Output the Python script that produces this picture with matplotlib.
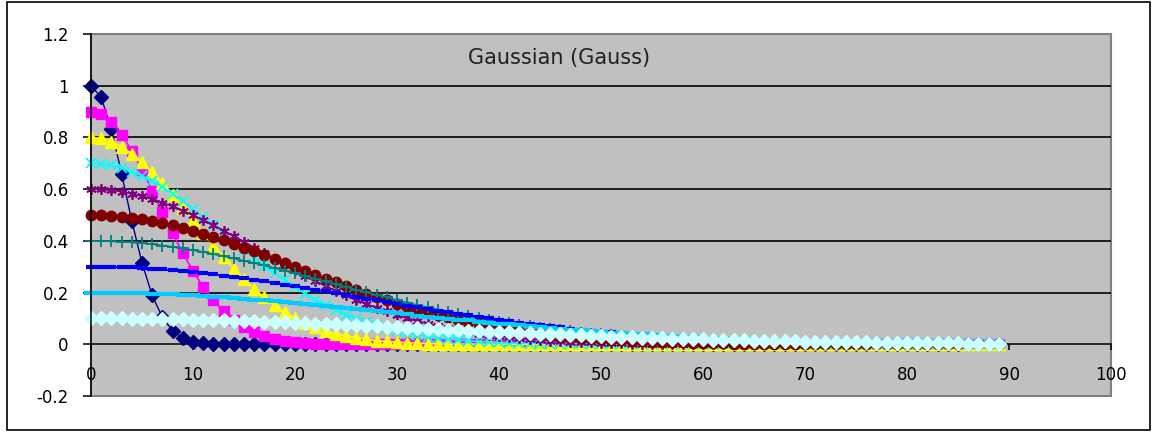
import matplotlib
matplotlib.use("Agg")
import matplotlib.pyplot as plt
from matplotlib.patches import Rectangle

# ---- data -------------------------------------------------------------
x_values = list(range(90))

gauss_a10 = [
    1.000, 0.955, 0.831, 0.660, 0.477, 0.315, 0.189, 0.104, 0.052, 0.024,
    0.010, 0.004, 0.001, 0, 0, 0, 0, 0, 0, 0,
    0, 0, 0, 0, 0, 0, 0, 0, 0, 0,
    0, 0, 0, 0, 0, 0, 0, 0, 0, 0,
    0, 0, 0, 0, 0, 0, 0, 0, 0, 0,
    0, 0, 0, 0, 0, 0, 0, 0, 0, 0,
    0, 0, 0, 0, 0, 0, 0, 0, 0, 0,
    0, 0, 0, 0, 0, 0, 0, 0, 0, 0,
    0, 0, 0, 0, 0, 0, 0, 0, 0, 0,
]

gauss_a09 = [
    0.900, 0.890, 0.859, 0.811, 0.748, 0.674, 0.594, 0.511, 0.429, 0.353,
    0.283, 0.222, 0.170, 0.128, 0.093, 0.067, 0.047, 0.032, 0.021, 0.014,
    0.009, 0.005, 0.003, 0.002, 0.001, 0.001, 0, 0, 0, 0,
    0, 0, 0, 0, 0, 0, 0, 0, 0, 0,
    0, 0, 0, 0, 0, 0, 0, 0, 0, 0,
    0, 0, 0, 0, 0, 0, 0, 0, 0, 0,
    0, 0, 0, 0, 0, 0, 0, 0, 0, 0,
    0, 0, 0, 0, 0, 0, 0, 0, 0, 0,
    0, 0, 0, 0, 0, 0, 0, 0, 0, 0,
]

gauss_a08 = [
    0.800, 0.796, 0.784, 0.764, 0.737, 0.704, 0.665, 0.622, 0.576, 0.528,
    0.479, 0.430, 0.382, 0.336, 0.292, 0.252, 0.215, 0.181, 0.151, 0.125,
    0.102, 0.083, 0.067, 0.053, 0.041, 0.032, 0.025, 0.019, 0.014, 0.011,
    0.008, 0.006, 0.004, 0.003, 0.002, 0.001, 0.001, 0.001, 0, 0,
    0, 0, 0, 0, 0, 0, 0, 0, 0, 0,
    0, 0, 0, 0, 0, 0, 0, 0, 0, 0,
    0, 0, 0, 0, 0, 0, 0, 0, 0, 0,
    0, 0, 0, 0, 0, 0, 0, 0, 0, 0,
    0, 0, 0, 0, 0, 0, 0, 0, 0, 0,
]

gauss_a07 = [
    0.700, 0.698, 0.692, 0.682, 0.668, 0.651, 0.631, 0.608, 0.582, 0.554,
    0.524, 0.493, 0.462, 0.429, 0.397, 0.365, 0.334, 0.304, 0.274, 0.247,
    0.220, 0.196, 0.173, 0.152, 0.132, 0.115, 0.099, 0.085, 0.073, 0.062,
    0.052, 0.044, 0.036, 0.030, 0.025, 0.020, 0.017, 0.013, 0.011, 0.009,
    0.007, 0.005, 0.004, 0.003, 0.003, 0.002, 0.002, 0.001, 0.001, 0.001,
    0, 0, 0, 0, 0, 0, 0, 0, 0, 0,
    0, 0, 0, 0, 0, 0, 0, 0, 0, 0,
    0, 0, 0, 0, 0, 0, 0, 0, 0, 0,
    0, 0, 0, 0, 0, 0, 0, 0, 0, 0,
]

gauss_a06 = [
    0.600, 0.599, 0.596, 0.590, 0.583, 0.573, 0.561, 0.548, 0.533, 0.517,
    0.499, 0.480, 0.460, 0.439, 0.418, 0.396, 0.374, 0.352, 0.329, 0.308,
    0.286, 0.265, 0.245, 0.225, 0.207, 0.189, 0.172, 0.156, 0.141, 0.127,
    0.114, 0.101, 0.090, 0.080, 0.071, 0.062, 0.055, 0.048, 0.041, 0.036,
    0.031, 0.027, 0.023, 0.020, 0.017, 0.014, 0.012, 0.010, 0.008, 0.007,
    0.006, 0.005, 0.004, 0.003, 0.003, 0.002, 0.002, 0.001, 0.001, 0.001,
    0.001, 0.001, 0, 0, 0, 0, 0, 0, 0, 0,
    0, 0, 0, 0, 0, 0, 0, 0, 0, 0,
    0, 0, 0, 0, 0, 0, 0, 0, 0, 0,
]

gauss_a05 = [
    0.500, 0.499, 0.497, 0.494, 0.490, 0.484, 0.477, 0.469, 0.461, 0.451,
    0.440, 0.428, 0.416, 0.402, 0.389, 0.374, 0.360, 0.345, 0.330, 0.314,
    0.299, 0.284, 0.268, 0.253, 0.239, 0.224, 0.210, 0.196, 0.183, 0.170,
    0.157, 0.145, 0.134, 0.123, 0.113, 0.104, 0.095, 0.086, 0.078, 0.071,
    0.064, 0.058, 0.052, 0.046, 0.042, 0.037, 0.033, 0.029, 0.026, 0.023,
    0.020, 0.018, 0.015, 0.014, 0.012, 0.010, 0.009, 0.008, 0.007, 0.006,
    0.005, 0.004, 0.004, 0.003, 0.003, 0.002, 0.002, 0.002, 0.001, 0.001,
    0.001, 0.001, 0.001, 0.001, 0, 0, 0, 0, 0, 0,
    0, 0, 0, 0, 0, 0, 0, 0, 0, 0,
]

gauss_a04 = [
    0.400, 0.400, 0.398, 0.397, 0.394, 0.391, 0.387, 0.382, 0.377, 0.371,
    0.364, 0.357, 0.349, 0.341, 0.332, 0.323, 0.314, 0.305, 0.295, 0.285,
    0.274, 0.264, 0.253, 0.243, 0.232, 0.222, 0.211, 0.201, 0.191, 0.181,
    0.171, 0.161, 0.152, 0.143, 0.134, 0.126, 0.118, 0.110, 0.102, 0.095,
    0.088, 0.082, 0.076, 0.070, 0.064, 0.059, 0.054, 0.050, 0.045, 0.041,
    0.038, 0.034, 0.031, 0.028, 0.026, 0.023, 0.021, 0.019, 0.017, 0.015,
    0.013, 0.012, 0.011, 0.009, 0.008, 0.007, 0.007, 0.006, 0.005, 0.004,
    0.004, 0.003, 0.003, 0.003, 0.002, 0.002, 0.002, 0.001, 0.001, 0.001,
    0.001, 0.001, 0.001, 0.001, 0.001, 0, 0, 0, 0, 0,
]

gauss_a03 = [
    0.300, 0.300, 0.299, 0.298, 0.297, 0.295, 0.292, 0.290, 0.286, 0.283,
    0.279, 0.275, 0.270, 0.266, 0.260, 0.255, 0.249, 0.243, 0.237, 0.231,
    0.225, 0.218, 0.211, 0.205, 0.198, 0.191, 0.184, 0.177, 0.170, 0.163,
    0.157, 0.150, 0.143, 0.137, 0.130, 0.124, 0.118, 0.112, 0.106, 0.100,
    0.094, 0.089, 0.084, 0.079, 0.074, 0.069, 0.065, 0.061, 0.057, 0.053,
    0.049, 0.046, 0.043, 0.039, 0.036, 0.034, 0.031, 0.029, 0.026, 0.024,
    0.022, 0.020, 0.019, 0.017, 0.016, 0.014, 0.013, 0.012, 0.011, 0.010,
    0.009, 0.008, 0.007, 0.006, 0.006, 0.005, 0.005, 0.004, 0.004, 0.003,
    0.003, 0.003, 0.002, 0.002, 0.002, 0.002, 0.001, 0.001, 0.001, 0.001,
]

gauss_a02 = [
    0.200, 0.200, 0.200, 0.199, 0.198, 0.197, 0.196, 0.194, 0.193, 0.191,
    0.189, 0.187, 0.184, 0.182, 0.179, 0.176, 0.173, 0.170, 0.166, 0.163,
    0.159, 0.155, 0.152, 0.148, 0.144, 0.140, 0.136, 0.132, 0.128, 0.124,
    0.120, 0.116, 0.111, 0.107, 0.103, 0.099, 0.095, 0.092, 0.088, 0.084,
    0.080, 0.077, 0.073, 0.070, 0.066, 0.063, 0.060, 0.057, 0.054, 0.051,
    0.048, 0.045, 0.043, 0.040, 0.038, 0.036, 0.033, 0.031, 0.029, 0.027,
    0.026, 0.024, 0.022, 0.021, 0.019, 0.018, 0.017, 0.015, 0.014, 0.013,
    0.012, 0.011, 0.010, 0.010, 0.009, 0.008, 0.007, 0.007, 0.006, 0.006,
    0.005, 0.005, 0.004, 0.004, 0.004, 0.003, 0.003, 0.003, 0.002, 0.002,
]

gauss_a01 = [
    0.100, 0.100, 0.100, 0.100, 0.099, 0.099, 0.098, 0.098, 0.097, 0.096,
    0.095, 0.095, 0.094, 0.092, 0.091, 0.090, 0.089, 0.087, 0.086, 0.085,
    0.083, 0.082, 0.080, 0.078, 0.077, 0.075, 0.073, 0.071, 0.070, 0.068,
    0.066, 0.064, 0.062, 0.060, 0.059, 0.057, 0.055, 0.053, 0.051, 0.049,
    0.048, 0.046, 0.044, 0.043, 0.041, 0.039, 0.038, 0.036, 0.034, 0.033,
    0.031, 0.030, 0.029, 0.027, 0.026, 0.025, 0.023, 0.022, 0.021, 0.020,
    0.019, 0.018, 0.017, 0.016, 0.015, 0.014, 0.013, 0.013, 0.012, 0.011,
    0.010, 0.010, 0.009, 0.009, 0.008, 0.007, 0.007, 0.006, 0.006, 0.006,
    0.005, 0.005, 0.004, 0.004, 0.004, 0.004, 0.003, 0.003, 0.003, 0.003,
]

x_ticks = [0, 10, 20, 30, 40, 50, 60, 70, 80, 90, 100]
x_tick_labels = ["0", "10", "20", "30", "40", "50", "60", "70", "80", "90", "100"]
y_ticks = [-0.2, 0.0, 0.2, 0.4, 0.6, 0.8, 1.0, 1.2]
y_tick_labels = ["-0.2", "0", "0.2", "0.4", "0.6", "0.8", "1", "1.2"]
title_text = "Gaussian (Gauss)"

# ---- series styles (classic spreadsheet palette) ----------------------
series = [
    dict(y=gauss_a10, color="#000080", marker="D", ms=7.0, mew=1.0, lw=1.0),
    dict(y=gauss_a09, color="#FF00FF", marker="s", ms=7.5, mew=1.0, lw=1.2),
    dict(y=gauss_a08, color="#FFFF00", marker="^", ms=8.5, mew=1.0, lw=1.2),
    dict(y=gauss_a07, color="#00FFFF", marker="x", ms=7.0, mew=1.3, lw=1.2),
    dict(y=gauss_a06, color="#800080", marker=(6, 2, 0), ms=7.5, mew=1.3, lw=1.2),
    dict(y=gauss_a05, color="#800000", marker="o", ms=7.5, mew=1.0, lw=1.2),
    dict(y=gauss_a04, color="#008080", marker="+", ms=8.0, mew=1.3, lw=1.2),
    dict(y=gauss_a03, color="#0000FF", marker="_", ms=7.5, mew=3.0, lw=1.4),
    dict(y=gauss_a02, color="#00CCFF", marker="_", ms=9.5, mew=3.0, lw=1.8),
    dict(y=gauss_a01, color="#CCFFFF", marker="D", ms=7.5, mew=1.0, lw=1.2),
]

# ---- figure -----------------------------------------------------------
W, H = 1157, 432
fig = plt.figure(figsize=(W / 100, H / 100), dpi=100)
fig.patch.set_facecolor("white")
plt.rcParams["font.family"] = ["DejaVu Sans"]

ax = fig.add_axes([91 / W, 36 / H, 1020 / W, 362 / H])
ax.set_facecolor("#C0C0C0")
ax.set_xlim(x_ticks[0], x_ticks[-1])
ax.set_ylim(y_ticks[0], y_ticks[-1])

# plot-area frame in grey
ax.add_patch(Rectangle((0, 0), 1, 1, transform=ax.transAxes, fill=False,
                       edgecolor="#808080", linewidth=1.5, zorder=0.6,
                       clip_on=False))

# horizontal gridlines
for yv in y_ticks:
    if y_ticks[0] < yv < y_ticks[-1] and yv != 0:
        ax.axhline(yv, color="black", linewidth=1.2, zorder=1)

for s in series:
    ax.plot(x_values, s["y"], color=s["color"], linewidth=s["lw"],
            marker=s["marker"], markersize=s["ms"], markeredgewidth=s["mew"],
            markerfacecolor=s["color"], markeredgecolor=s["color"],
            clip_on=False, zorder=2)

# axes: y at left, x crossing at zero
for side in ("top", "right"):
    ax.spines[side].set_visible(False)
ax.spines["left"].set_color("black")
ax.spines["left"].set_linewidth(1.1)
ax.spines["left"].set_zorder(3)
ax.spines["bottom"].set_position(("data", 0))
ax.spines["bottom"].set_color("black")
ax.spines["bottom"].set_linewidth(1.1)
ax.spines["bottom"].set_zorder(1.5)

ax.set_xticks(x_ticks)
ax.set_xticklabels(x_tick_labels)
ax.set_yticks(y_ticks)
ax.set_yticklabels(y_tick_labels)
ax.tick_params(axis="y", direction="out", length=5.5, width=1.1,
               pad=10.5, labelsize=12, colors="black")
ax.tick_params(axis="x", direction="out", length=4.5, width=1.1,
               pad=11.0, labelsize=12, colors="black")

ax.text(0.459, 0.934, title_text, transform=ax.transAxes, ha="center",
        va="center", fontsize=15, color="#202020")

# outer chart border
fig.add_artist(Rectangle((7 / W, 2 / H), (1150 - 7) / W, (430 - 2) / H,
                         transform=fig.transFigure, fill=False,
                         edgecolor="black", linewidth=1.2))

fig.savefig("out.png", dpi=100, facecolor="white")
